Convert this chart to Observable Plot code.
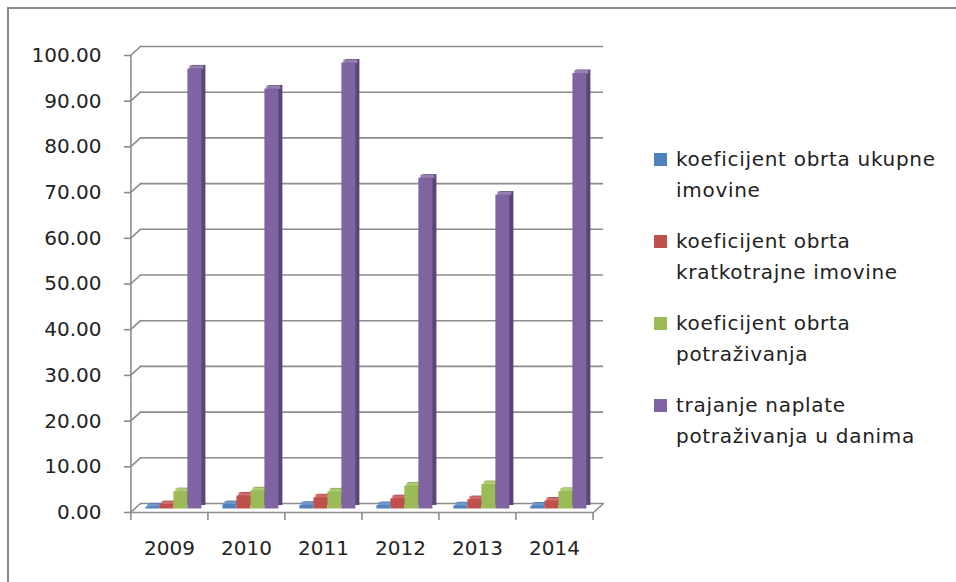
<!DOCTYPE html>
<html>
<head>
<meta charset="utf-8">
<script src="https://cdn.jsdelivr.net/npm/d3@7"></script>
<script src="https://cdn.jsdelivr.net/npm/@observablehq/plot@0.6"></script>
<style>
  html, body { margin: 0; padding: 0; background: #fff; overflow: hidden; }
  #page { position: relative; width: 956px; height: 582px; overflow: hidden; }
  #border { position: absolute; left: 7px; top: 7px; width: 1200px; height: 800px;
            border-left: 2px solid #8a8a8a; border-top: 2px solid #8a8a8a; }
  #chart { position: absolute; left: 0; top: 0; }
  #legend { position: absolute; left: 654px; top: 0; font-family: "DejaVu Sans", sans-serif;
            font-size: 20px; letter-spacing: 0.7px; color: #222; }
  .item { position: absolute; left: 0; width: 300px; line-height: 31px; }
  .sw { position: absolute; left: 0; width: 13px; height: 13px; top: 9px; }
  .txt { position: absolute; left: 22px; top: 0; white-space: nowrap; }
</style>
</head>
<body>
<div id="page">
  <div id="border"></div>
  <div id="chart"></div>
  <div id="legend"></div>
</div>
<script>
// ---- data ----
const years = ["2009", "2010", "2011", "2012", "2013", "2014"];
const seriesNames = [
  "koeficijent obrta ukupne imovine",
  "koeficijent obrta kratkotrajne imovine",
  "koeficijent obrta potraživanja",
  "trajanje naplate potraživanja u danima"
];
const legendLines = [
  ["koeficijent obrta ukupne", "imovine"],
  ["koeficijent obrta", "kratkotrajne imovine"],
  ["koeficijent obrta", "potraživanja"],
  ["trajanje naplate", "potraživanja u danima"]
];
const ukupneImovine = [0.45, 0.95, 0.80, 0.75, 0.70, 0.65];
const kratkotrajneImovine = [0.95, 2.85, 2.45, 2.25, 2.05, 1.75];
const potrazivanja = [3.79, 3.97, 3.74, 5.05, 5.33, 3.83];
const trajanjeNaplate = [96.3, 91.9, 97.6, 72.4, 68.7, 95.3];
const yTicks = [0, 10, 20, 30, 40, 50, 60, 70, 80, 90, 100];

const seriesValues = [ukupneImovine, kratkotrajneImovine, potrazivanja, trajanjeNaplate];
const frontColors = ["#4F81BD", "#C0504D", "#9BBB59", "#8064A2"];
const sideColors  = ["#385D8A", "#8C3836", "#71893F", "#5A4676"];
const topColors   = ["#6F97CC", "#CE6C69", "#AFCB74", "#9580B3"];

const rows = seriesValues.map((vals, s) =>
  years.map((year, i) => ({year, series: seriesNames[s], value: vals[i]})));

// ---- layout constants ----
const W = 620, H = 582, mL = 130, mR = 27, mT = 55, mB = 70;
const step = (W - mL - mR) / years.length;
const pin = 1 - 14 / step;
const barDx = [-16.6, -2.6, 11.4, 25.4];
const depthX = 4, depthY = 3.5, base = -3.5;
const wallDx = 10, wallDy = -9;
const gridColor = "#8c8c8c";

const barMarks = [];
rows.forEach((data, s) => {
  barMarks.push(Plot.barY(data, {x: "year", y: "value", fill: sideColors[s],
    dx: barDx[s] + depthX, dy: base - depthY}));
  barMarks.push(Plot.tickY(data, {x: "year", y: "value", stroke: topColors[s],
    strokeWidth: depthY, dx: barDx[s] + depthX / 2, dy: base - depthY / 2}));
  barMarks.push(Plot.barY(data, {x: "year", y: "value", fill: frontColors[s],
    dx: barDx[s], dy: base}));
});

const chart = Plot.plot({
  width: W, height: H,
  marginLeft: mL, marginRight: mR, marginTop: mT, marginBottom: mB,
  style: {fontFamily: "DejaVu Sans, sans-serif", background: "transparent", overflow: "visible"},
  x: {domain: years, paddingInner: pin, paddingOuter: pin / 2, axis: null, label: null},
  y: {domain: [0, 100], axis: null, label: null},
  marks: [
    // back wall gridlines (incl. floor back edge)
    Plot.ruleY(yTicks, {stroke: gridColor, strokeWidth: 1.6, dx: wallDx, dy: wallDy}),
    // diagonal connectors from front axis to back wall
    Plot.vector(yTicks, {y: d => d, frameAnchor: "left", length: Math.hypot(wallDx, wallDy),
      rotate: Math.atan2(wallDx, -wallDy) * 180 / Math.PI, anchor: "start", r: 0,
      stroke: gridColor, strokeWidth: 1.6}),
    Plot.vector([0], {y: d => d, frameAnchor: "right", length: Math.hypot(wallDx, wallDy),
      rotate: Math.atan2(wallDx, -wallDy) * 180 / Math.PI, anchor: "start", r: 0,
      stroke: gridColor, strokeWidth: 1.6}),
    // front floor edge and vertical axis line
    Plot.ruleY([0], {stroke: gridColor, strokeWidth: 1.6}),
    Plot.ruleX([years[0]], {x: d => d, y1: 0, y2: 100, dx: -step / 2, stroke: gridColor, strokeWidth: 1.6}),
    // y axis
    Plot.axisY({ticks: yTicks, tickFormat: d => d.toFixed(2), tickSize: 6, tickPadding: 23,
      fontSize: 20, stroke: gridColor, strokeWidth: 1.6, fill: "#222", label: null}),
    // x axis ticks between categories
    Plot.axisX({tickSize: 8, text: null, dx: -step / 2, stroke: gridColor, strokeWidth: 1.6, label: null}),
    Plot.axisX({ticks: [years[years.length - 1]], tickSize: 8, text: null, dx: step / 2, stroke: gridColor, strokeWidth: 1.6, label: null}),
    Plot.axisX({tickSize: 0, tickPadding: 28, fontSize: 20, fill: "#222", label: null}),
    ...barMarks
  ]
});
document.getElementById("chart").appendChild(chart);

// ---- legend ----
const legend = document.getElementById("legend");
const itemTops = [144, 226, 308, 390];
legendLines.forEach((lines, s) => {
  const item = document.createElement("div");
  item.className = "item";
  item.style.top = itemTops[s] + "px";
  const sw = document.createElement("div");
  sw.className = "sw";
  sw.style.background = frontColors[s];
  const txt = document.createElement("div");
  txt.className = "txt";
  txt.innerHTML = lines.join("<br>");
  item.appendChild(sw);
  item.appendChild(txt);
  legend.appendChild(item);
});
</script>
</body>
</html>
